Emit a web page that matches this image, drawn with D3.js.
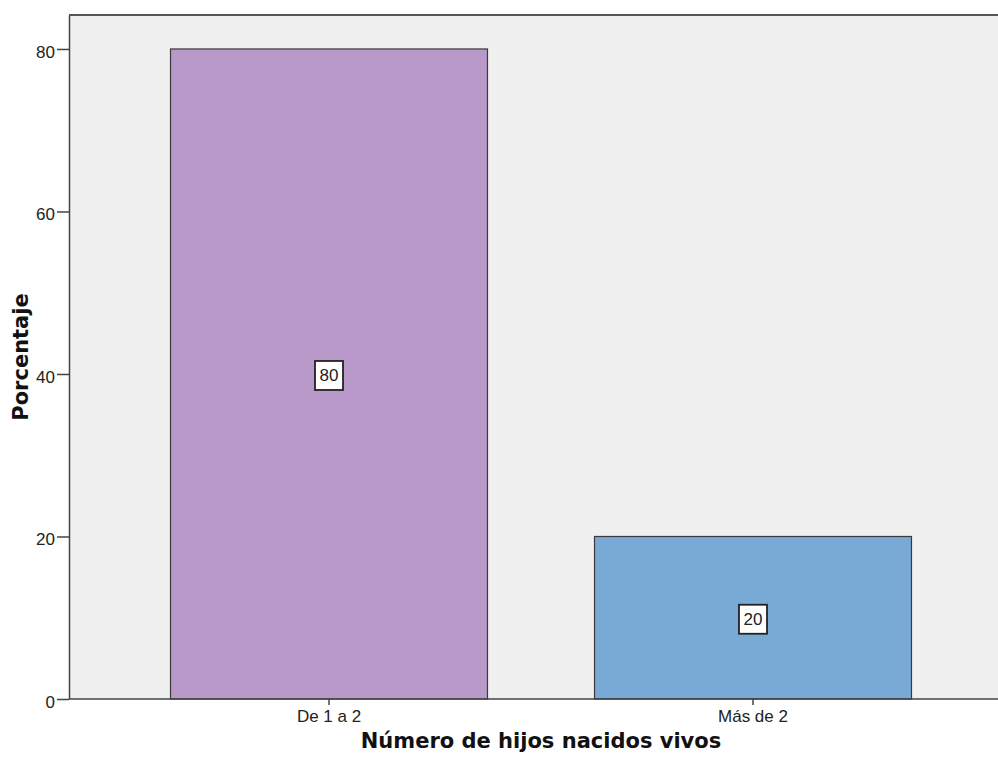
<!DOCTYPE html>
<html><head><meta charset="utf-8">
<script src="https://cdn.jsdelivr.net/npm/d3@7"></script>
<style>body{margin:0;background:#fff}svg{display:block}</style>
</head><body>
<svg id="c" width="998" height="760"></svg>
<script>
const categories = ["De 1 a 2", "Más de 2"];
const values = [80, 20];
const colors = ["#b899c9", "#79aad6"];
const yTicks = [0, 20, 40, 60, 80];
const xTitle = "Número de hijos nacidos vivos";
const yTitle = "Porcentaje";

const svg = d3.select("#c");
const mLeft = 69, mRight = 998, mTop = 15, mBottom = 699;
const tickFont = "Liberation Sans, Arial, sans-serif";

svg.append("rect").attr("x", mLeft).attr("y", mTop).attr("width", mRight - mLeft).attr("height", mBottom - mTop).attr("fill", "#f0f0f0");

const x = d3.scaleBand().domain(categories).range([117, 965]).paddingInner(0.2524).paddingOuter(0.1262);
const y = d3.scaleLinear().domain([0, 84.18]).range([mBottom, mTop]);

const bars = svg.append("g");
bars.selectAll("rect").data(categories).join("rect")
  .attr("x", d => x(d)).attr("width", x.bandwidth())
  .attr("y", (d, i) => y(values[i])).attr("height", (d, i) => y(0) - y(values[i]))
  .attr("fill", (d, i) => colors[i]).attr("stroke", "#3a3a3a").attr("stroke-width", 1.2);

// top border
svg.append("line").attr("x1", mLeft).attr("x2", mRight).attr("y1", mTop).attr("y2", mTop).attr("stroke", "#555").attr("stroke-width", 2);

// y axis
const ya = svg.append("g").attr("transform", `translate(${mLeft},0)`)
  .call(d3.axisLeft(y).tickValues(yTicks).tickSize(12).tickSizeOuter(0).tickPadding(2));
ya.select(".domain").attr("stroke", "#444").attr("stroke-width", 1.5);
ya.selectAll(".tick line").attr("stroke", "#444").attr("stroke-width", 1.5);
ya.selectAll(".tick text").attr("font-family", tickFont).attr("font-size", 17).attr("fill", "#222").attr("dy", "0.5em");

// x axis
const xa = svg.append("g").attr("transform", `translate(0,${mBottom})`)
  .call(d3.axisBottom(x).tickSize(6).tickSizeOuter(0).tickPadding(5));
xa.select(".domain").attr("stroke", "#444").attr("stroke-width", 1.5).attr("d", `M${mLeft},0H${mRight}`);
xa.selectAll(".tick line").attr("stroke", "#444").attr("stroke-width", 1.5);
xa.selectAll(".tick text").attr("font-family", tickFont).attr("font-size", 17).attr("fill", "#222").attr("dy", "0.71em");

// value labels
const lab = svg.append("g").selectAll("g").data(categories).join("g")
  .attr("transform", (d, i) => `translate(${x(d) + x.bandwidth() / 2},${y(values[i] / 2)})`);
lab.append("rect").attr("x", -14).attr("y", -13).attr("width", 28).attr("height", 29)
  .attr("fill", "#fff").attr("stroke", "#222").attr("stroke-width", 1.8);
lab.append("text").attr("text-anchor", "middle").attr("dy", "0.42em")
  .attr("font-family", tickFont).attr("font-size", 17).attr("fill", "#222")
  .text((d, i) => values[i]);

// titles
svg.append("text").attr("x", 541).attr("y", 748).attr("text-anchor", "middle")
  .attr("font-family", "DejaVu Sans, Verdana, sans-serif").attr("font-weight", "bold").attr("font-size", 21).attr("fill", "#111")
  .text(xTitle);
svg.append("text").attr("transform", `translate(28,357) rotate(-90)`).attr("text-anchor", "middle")
  .attr("font-family", "DejaVu Sans, Verdana, sans-serif").attr("font-weight", "bold").attr("font-size", 21).attr("fill", "#111")
  .text(yTitle);
</script>
</body></html>
